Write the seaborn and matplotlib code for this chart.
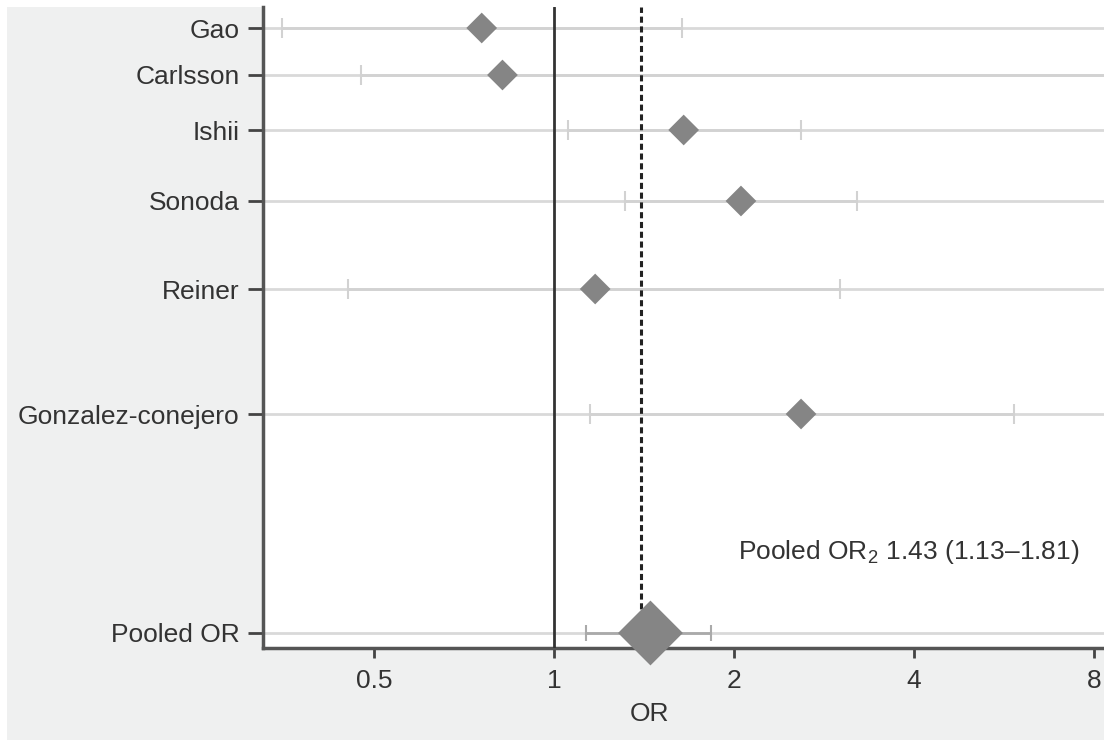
import numpy as np
import pandas as pd
import matplotlib
matplotlib.use("Agg")
import matplotlib.pyplot as plt
import seaborn as sns
from matplotlib.patches import Rectangle

# study estimates (odds ratios)
studies = ['Gao', 'Carlsson', 'Ishii', 'Sonoda', 'Reiner', 'Gonzalez-conejero', 'Pooled OR']
odds = [0.757, 0.82, 1.648, 2.055, 1.172, 2.59, 1.45]
lower = [0.351, 0.475, 1.056, 1.317, 0.452, 1.15, 1.13]
upper = [1.635, 9.5, 2.59, 3.21, 3.015, 5.89, 1.83]
# vertical row positions (rows are spaced unevenly in the original)
row_y = [620, 573, 518, 447, 359, 234, 15]
pooled_line = 1.40

df = pd.DataFrame({'study': studies, 'OR': odds, 'lo': lower, 'hi': upper, 'y': row_y})
df['kind'] = ['study'] * 6 + ['pooled']

sns.set_theme(style="white")
plt.rcParams['font.family'] = ['Liberation Sans', 'DejaVu Sans']
plt.rcParams['mathtext.fontset'] = 'custom'
plt.rcParams['mathtext.rm'] = 'Liberation Sans'
plt.rcParams['mathtext.it'] = 'Liberation Sans'

fig = plt.figure(figsize=(11.04, 7.4), dpi=100, facecolor='white')
fig.patches.append(Rectangle((7 / 1104, 0), 1, 733 / 740, transform=fig.transFigure,
                             facecolor='#eff0f0', edgecolor='none', zorder=-10))
ax = fig.add_axes([263 / 1104, 1 - 648 / 740, 1 - 263 / 1104, (648 - 7) / 740])
ax.set_facecolor('white')

ax.set_xscale('log', base=2)
ax.set_xlim(0.326, 8.32)
ax.set_ylim(0, 641)

# row grid lines
for yy in df['y']:
    ax.axhline(yy, color='#d9d9d9', lw=2, zorder=1)

# confidence intervals
st = df[df['kind'] == 'study']
ax.errorbar(st['OR'], st['y'], xerr=[st['OR'] - st['lo'], st['hi'] - st['OR']],
            fmt='none', ecolor='#d2d2d2', elinewidth=2, capsize=7, capthick=1.5, zorder=2)
po = df[df['kind'] == 'pooled']
ax.errorbar(po['OR'], po['y'], xerr=[po['OR'] - po['lo'], po['hi'] - po['OR']],
            fmt='none', ecolor='#aaaaaa', elinewidth=2, capsize=6, capthick=1.5, zorder=2)

# reference lines
ax.axvline(1, color='#333333', lw=2, zorder=3)
ax.axvline(pooled_line, color='#222222', lw=2.2, ls=(0, (2, 1.2)), zorder=3)

# diamonds
sns.scatterplot(data=df, x='OR', y='y', size='kind', sizes={'study': 245, 'pooled': 1090},
                marker='D', color='#858585', edgecolor='none', legend=False,
                ax=ax, zorder=5, clip_on=False)

ax.set_yticks(df['y'])
ax.set_yticklabels(df['study'])
ax.set_xticks([0.5, 1, 2, 4, 8])
ax.set_xticklabels(['0.5', '1', '2', '4', '8'])
ax.minorticks_off()

ax.tick_params(axis='y', left=True, length=11, width=2, color='#444444', pad=6,
               labelsize=19, labelcolor='#333333')
ax.tick_params(axis='x', bottom=True, length=7, width=2, color='#444444', pad=8,
               labelsize=19, labelcolor='#333333')
ax.set_xlabel('OR', fontsize=19, color='#333333')
ax.xaxis.set_label_coords(0.46, -0.084)
ax.set_ylabel('')

for side in ['top', 'right']:
    ax.spines[side].set_visible(False)
for side in ['left', 'bottom']:
    ax.spines[side].set_color('#555555')
    ax.spines[side].set_linewidth(2.5)

ax.text(0.565, 0.15, r'Pooled OR$_2$ 1.43 (1.13–1.81)', transform=ax.transAxes,
        fontsize=19, color='#333333', va='center', ha='left')

fig.savefig('out.png', dpi=100, facecolor=fig.get_facecolor())
